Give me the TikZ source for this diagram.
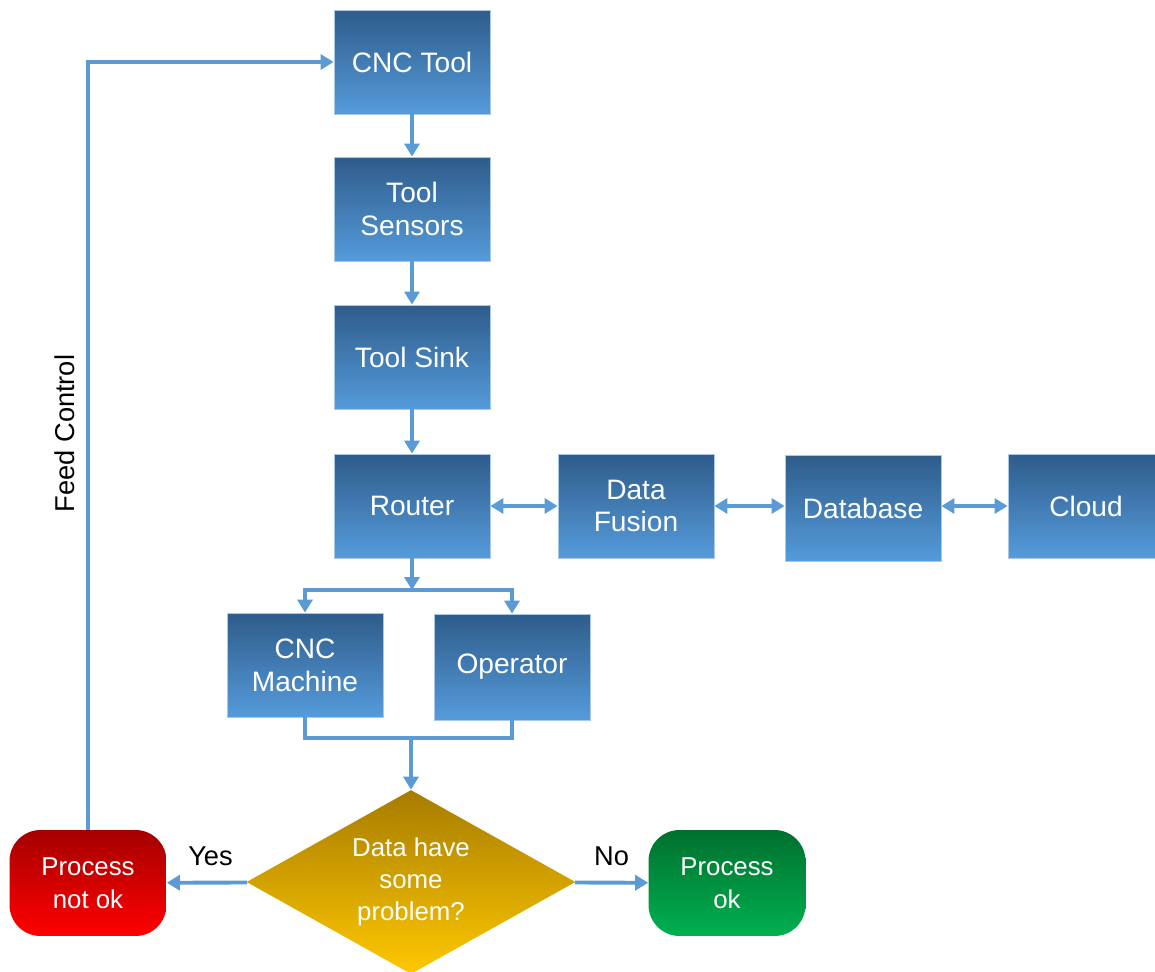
\documentclass[tikz,border=0pt]{standalone}
\usepackage{fontspec}
\setmainfont{Liberation Sans}
\usepackage{tikz}
\usetikzlibrary{arrows.meta,positioning,shapes.geometric}
\definecolor{fcBoxTop}{HTML}{2E5C8A}
\definecolor{fcBoxBottom}{HTML}{559BDB}
\definecolor{fcEdge}{HTML}{A9C8E8}
\definecolor{fcArrow}{HTML}{5B9BD5}
\definecolor{fcGoldTop}{HTML}{A67C00}
\definecolor{fcGoldBottom}{HTML}{FFC800}
\definecolor{fcRedTop}{HTML}{A50000}
\definecolor{fcRedBottom}{HTML}{FF0000}
\definecolor{fcGreenTop}{HTML}{00702F}
\definecolor{fcGreenBottom}{HTML}{00B04F}
\tikzset{
  fc diagram/.style={font=\fontsize{16}{18.7}\selectfont,
    line cap=butt, line join=miter},
  fc box/.style={rectangle, draw=fcEdge, line width=0.5pt,
    top color=fcBoxTop, bottom color=fcBoxBottom, text=white,
    minimum width=3.12cm, minimum height=2.08cm, align=center, inner sep=2pt},
  fc decision/.style={diamond, top color=fcGoldTop, bottom color=fcGoldBottom,
    text=white, aspect=1.79, minimum width=6.58cm, minimum height=3.68cm,
    inner sep=0pt, align=center, font=\fontsize{14.7}{18.1}\selectfont},
  fc stop/.style={rectangle, rounded corners=0.62cm,
    text=white, minimum width=3.14cm, minimum height=2.12cm,
    inner sep=0pt, align=center, font=\fontsize{14.7}{18.6}\selectfont},
  fc bad/.style={fc stop, top color=fcRedTop, bottom color=fcRedBottom},
  fc good/.style={fc stop, top color=fcGreenTop, bottom color=fcGreenBottom},
  fc line/.style={draw=fcArrow, line width=2.2pt},
  fc arrow/.style={fc line, -{Triangle[length=0.26cm, width=0.3cm]}},
  fc both/.style={fc line, {Triangle[length=0.26cm, width=0.3cm]}-{Triangle[length=0.26cm, width=0.3cm]}},
  fc label/.style={text=black, font=\fontsize{15.5}{18}\selectfont}
}
\begin{document}
\begin{tikzpicture}[fc diagram, x=0.02cm, y=-0.02cm]
\useasboundingbox (0,0) rectangle (1155,972);
% main chain
\node[fc box] (tool) at (412,62) {CNC Tool};
\node[fc box] (sensors) at (412,209) {Tool\\Sensors};
\node[fc box] (sink) at (412,357) {Tool Sink};
\node[fc box] (router) at (412,506) {Router};
\node[fc box] (fusion) at (636,506) {Data\\Fusion};
\node[fc box, minimum height=2.12cm] (db) at (863,508) {Database};
\node[fc box] (cloud) at (1086,506) {Cloud};
\node[fc box] (machine) at (305,665) {CNC\\Machine};
\node[fc box, minimum height=2.12cm] (operator) at (512,667) {Operator};
% decision
\node[fc decision] (check) at (411,882) {Data have\\some\\problem?};
\node[fc bad] (notok) at (88,883) {Process\\not ok};
\node[fc good] (ok) at (727,883) {Process\\ok};
\coordinate (split) at (412,590);
\coordinate (merge) at (411,738);

\draw[fc arrow] (tool) -- (sensors);
\draw[fc arrow] (sensors) -- (sink);
\draw[fc arrow] (sink) -- (router);
\draw[fc both] (router) -- (fusion);
\draw[fc both] (fusion.east) -- (db.west |- fusion.east);
\draw[fc both] (db.east |- cloud.west) -- (cloud.west);
\draw[fc arrow] (router) -- (split);
\draw[fc arrow] (split) -| (machine);
\draw[fc arrow] (split) -| (operator);
\draw[fc line] (machine) |- (merge);
\draw[fc line] (operator) |- (merge);
\draw[fc arrow] (merge) -- (check);
\draw[fc arrow] (check) -- (notok) node[fc label, midway, above=5pt, xshift=2pt] (yes) {Yes};
\draw[fc arrow] (check) -- (ok) node[fc label, midway, above=5pt] (no) {No};
\draw[fc arrow] (notok.north) |- (tool)
  node[fc label, pos=0.258, rotate=90, anchor=south, yshift=3pt] (feed) {Feed Control};
\end{tikzpicture}
\end{document}
